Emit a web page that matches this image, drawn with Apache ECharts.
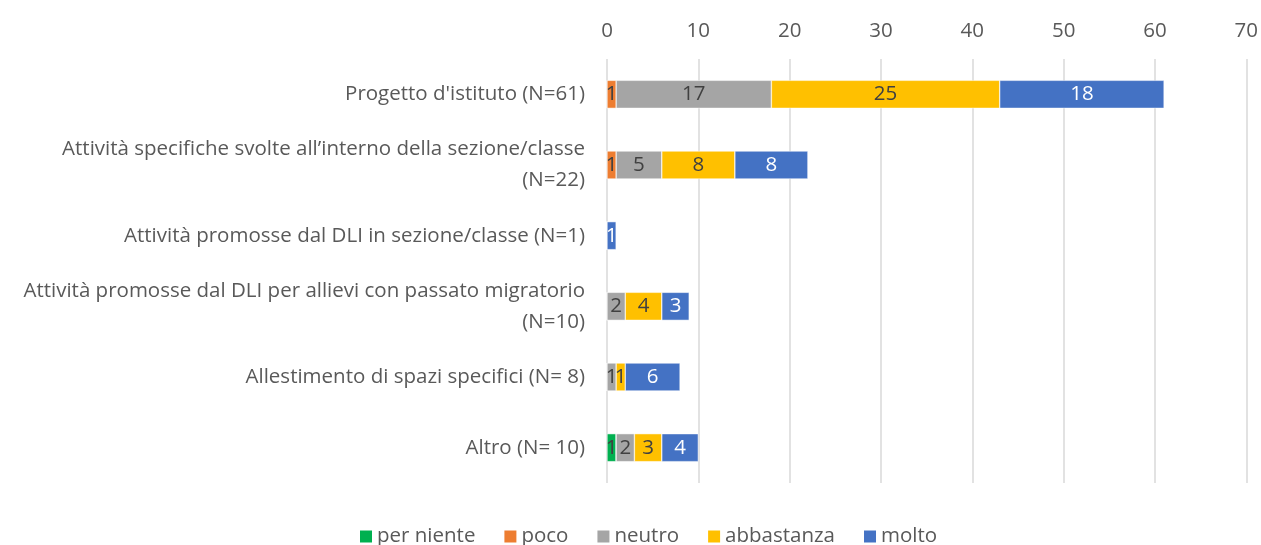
<!DOCTYPE html>
<html><head><meta charset="utf-8">
<script src="https://cdn.jsdelivr.net/npm/echarts@6/dist/echarts.min.js"></script>
<style>html,body{margin:0;padding:0;background:#fff}#c{width:1261px;height:545px}</style>
</head><body><div id="c"></div>
<script>
const categories = [
  "Progetto d'istituto (N=61)",
  "Attività specifiche svolte all’interno della sezione/classe\n(N=22)",
  "Attività promosse dal DLI in sezione/classe (N=1)",
  "Attività promosse dal DLI per allievi con passato migratorio\n(N=10)",
  "Allestimento di spazi specifici (N= 8)",
  "Altro (N= 10)"
];
const seriesNames = ["per niente", "poco", "neutro", "abbastanza", "molto"];
const perNiente  = [0, 0, 0, 0, 0, 1];
const poco       = [1, 1, 0, 0, 0, 0];
const neutro     = [17, 5, 0, 2, 1, 2];
const abbastanza = [25, 8, 0, 4, 1, 3];
const molto      = [18, 8, 1, 3, 6, 4];
const xTicks = [0, 10, 20, 30, 40, 50, 60, 70];

const values = [perNiente, poco, neutro, abbastanza, molto];
const colors = ["#00B050", "#ED7D31", "#A5A5A5", "#FFC000", "#4472C4"];
const labelColors = ["#404040", "#404040", "#404040", "#404040", "#FFFFFF"];
const FONT = "Open Sans";
const FS = 20.5;

const chart = echarts.init(document.getElementById('c'));
chart.setOption({
  animation: false,
  textStyle: { fontFamily: FONT },
  grid: { left: 607, right: 13, top: 59, bottom: 62, containLabel: false },
  legend: {
    top: 521, left: 353, itemWidth: 14, itemHeight: 14, itemGap: 27,
    icon: 'rect',
    textStyle: { color: '#595959', fontSize: FS, fontFamily: FONT, padding: [0, 0, 0, -1] },
    data: seriesNames
  },
  xAxis: {
    type: 'value', position: 'top', min: xTicks[0], max: xTicks[xTicks.length-1], interval: 10,
    axisLine: { show: false }, axisTick: { show: false },
    axisLabel: { color: '#595959', fontSize: FS, margin: 17 },
    splitLine: { lineStyle: { color: '#D9D9D9', width: 1.5 } }
  },
  yAxis: {
    type: 'category', inverse: true, data: categories,
    axisLine: { show: false }, axisTick: { show: false },
    axisLabel: { color: '#595959', fontSize: FS, margin: 22, align: 'right', lineHeight: 31 }
  },
  series: seriesNames.map((n, i) => ({
    name: n, type: 'bar', stack: 'tot', barWidth: 28,
    itemStyle: { color: colors[i], borderColor: '#fff', borderWidth: 0.5 },
    label: {
      show: true, position: 'inside', color: labelColors[i], fontSize: FS,
      formatter: p => p.value ? String(p.value) : ''
    },
    data: values[i]
  }))
});
</script></body></html>
